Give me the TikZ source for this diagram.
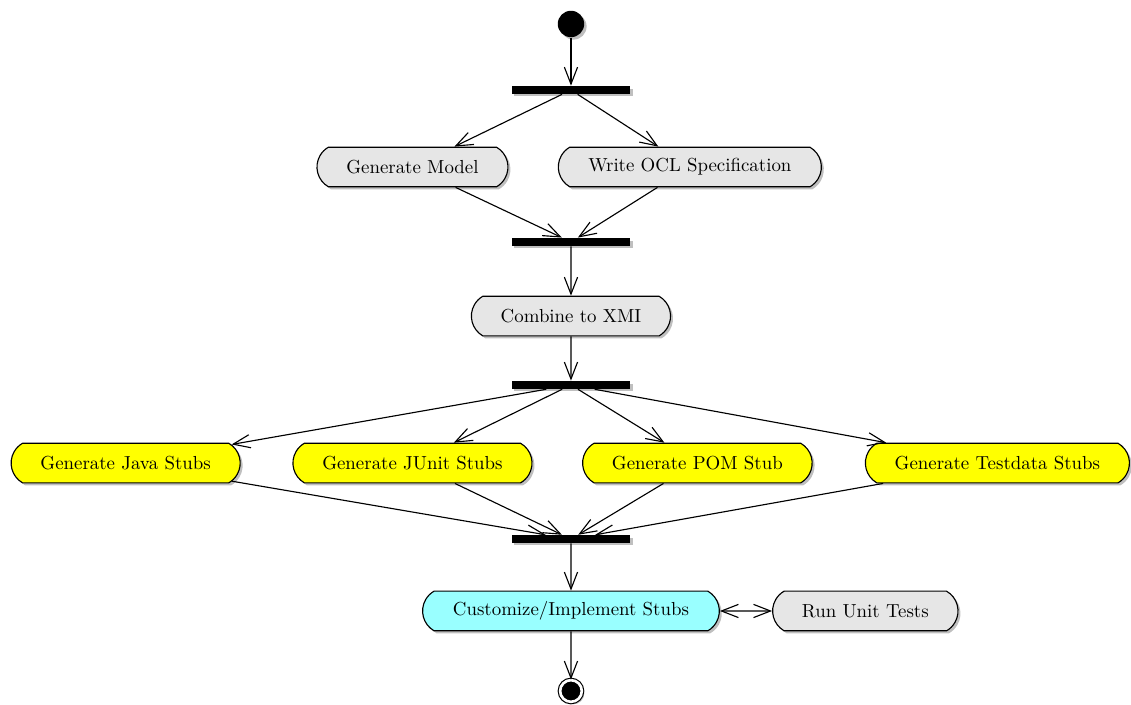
\documentclass[tikz,border=0pt]{standalone}
\usetikzlibrary{shapes.misc,shadows,arrows.meta}
\definecolor{stubyellow}{RGB}{255,255,0}
\definecolor{stubcyan}{RGB}{153,255,255}
\definecolor{actgray}{RGB}{230,230,230}
\begin{document}
\begin{tikzpicture}[node distance={40pt}, semithick, >={Straight Barb[length=9pt,width=7pt]},
  shade/.style = {drop shadow={shadow xshift=1.3pt, shadow yshift=-1.3pt, fill=black!50}},
  act/.style = {draw, rounded rectangle, rounded rectangle arc length=120, minimum height=21pt, inner xsep=15pt, fill=actgray, shade},
  gen/.style = {act, fill=stubyellow},
  bar/.style = {fill, inner sep=0pt, minimum width=63pt, minimum height=4pt, shade},
  start/.style = {circle, fill, inner sep=0pt, minimum size=14pt, shade},
  stop/.style = {circle, fill, draw, double=white, double distance=1.4pt, inner sep=0pt, minimum size=11.5pt, shade}]
\useasboundingbox (-302.6pt,12.7pt) rectangle (296.8pt,-360.4pt);
\node[start] (1) at (0,0) {};
\node[bar] (2) [below of=1, node distance=35pt] {};
\node[act] (3) [below of=2, node distance=40.8pt, xshift=-84pt] {Generate Model};
\node[act] (4) [below of=2, node distance=40.8pt, xshift=63pt] {Write OCL Specification};
\node[bar] (5) [below of=2, node distance=80.5pt] {};
\node[act] (6) [below of=5, node distance=39.3pt] {Combine to XMI};
\node[bar] (7) [below of=6, node distance=36.5pt] {};
\node[gen] (8) [below of=7, node distance=41.4pt, xshift=-236pt] {Generate Java Stubs};
\node[gen] (9) [below of=7, node distance=41.4pt, xshift=-84pt] {Generate JUnit Stubs};
\node[gen] (10) [below of=7, node distance=41.4pt, xshift=67pt] {Generate POM Stub};
\node[gen] (11) [below of=7, node distance=41.4pt, xshift=226pt] {Generate Testdata Stubs};
\node[bar] (12) [below of=7, node distance=81.7pt] {};
\node[act, fill=stubcyan] (13) [below of=12, node distance=38.1pt] {Customize/Implement Stubs};
\node[act] (14) [right of=13, node distance=156pt] {Run Unit Tests};
\node[stop] (15) [below of=13, node distance=42.4pt] {};
\draw[->] (1) -- (2);
\draw[->] (2) -- (3);
\draw[->] (2) -- (4);
\draw[->] (3) -- (5);
\draw[->] (4) -- (5);
\draw[->] (5) -- (6);
\draw[->] (6) -- (7);
\draw[->] (7) -- (8);
\draw[->] (7) -- (9);
\draw[->] (7) -- (10);
\draw[->] (7) -- (11);
\draw[->] (8) -- (12);
\draw[->] (9) -- (12);
\draw[->] (10) -- (12);
\draw[->] (11) -- (12);
\draw[->] (12) -- (13);
\draw[<->] (13) -- (14);
\draw[->] (13) -- (15);
\end{tikzpicture}
\end{document}
